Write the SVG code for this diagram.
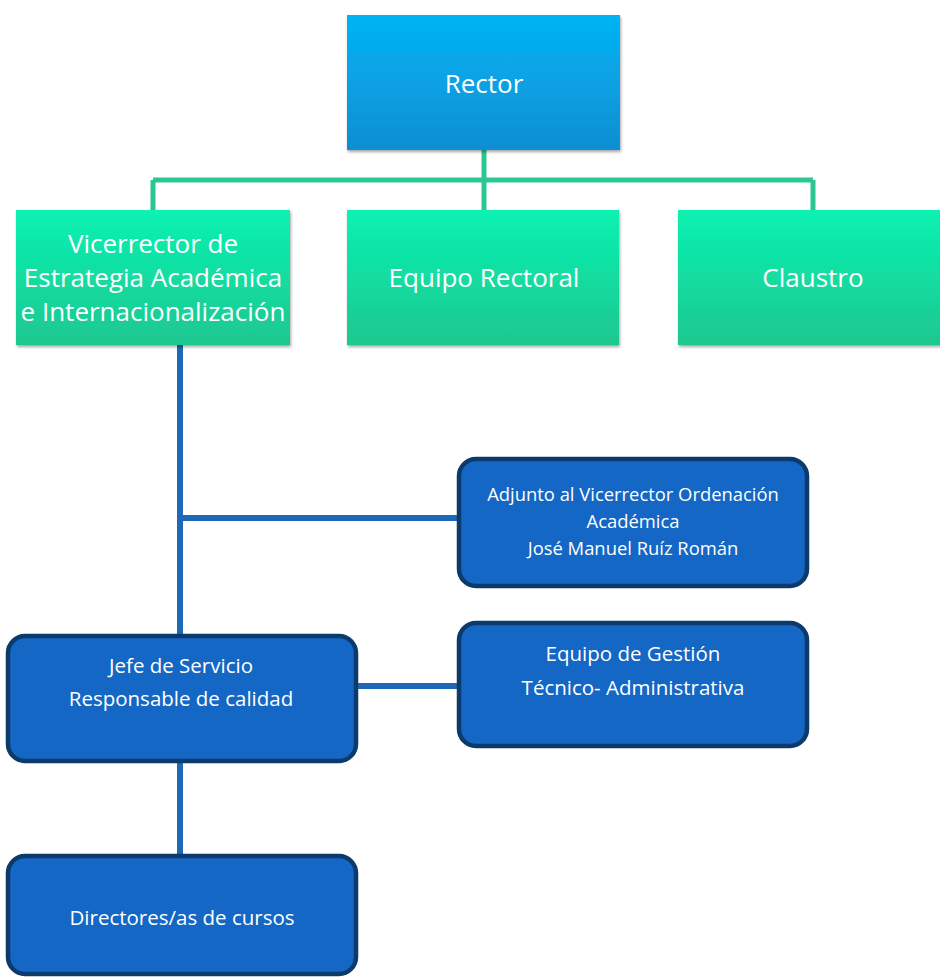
<svg xmlns="http://www.w3.org/2000/svg" width="940" height="977" viewBox="0 0 940 977">
<defs>
<linearGradient id="gRector" x1="0" y1="0" x2="0" y2="1">
<stop offset="0" stop-color="#05b4f4"/><stop offset="1" stop-color="#0a8ed3"/>
</linearGradient>
<linearGradient id="gGreen" x1="0" y1="0" x2="0" y2="1">
<stop offset="0" stop-color="#08f2b2"/><stop offset="1" stop-color="#1ec78f"/>
</linearGradient>
<filter id="sh" x="-5%" y="-5%" width="110%" height="115%">
<feDropShadow dx="1" dy="2" stdDeviation="1.5" flood-color="#000" flood-opacity="0.35"/>
</filter>
</defs>
<style>
.t{font-family:"Open Sans","Liberation Sans",sans-serif;fill:#fff;text-anchor:middle;dominant-baseline:central}
.big{font-size:26px}
.mid{font-size:20.5px}
.small{font-size:18.4px}
.blue{fill:#1467c4;stroke:#0c3a6b;stroke-width:4.5}
.gl{stroke:#2cc690;stroke-width:5;fill:none}
.bl{stroke:#1e68b8;stroke-width:6;fill:none}
</style>
<rect width="940" height="977" fill="#fff"/>
<g id="connectors">
<path class="gl" d="M484 150V210M153 180H813M153 180V210M813 180V210"/>
<path class="bl" d="M180 345V635M180 518H458M357 686H458M180 762V855"/>
</g>
<g id="rector">
<rect x="347" y="15" width="273" height="135" fill="url(#gRector)" filter="url(#sh)"/>
<text class="t big" x="484" y="83">Rector</text>
</g>
<g id="vicerrector">
<rect x="16" y="210" width="274" height="135" fill="url(#gGreen)" filter="url(#sh)"/>
<text class="t big" x="153" y="243">Vicerrector de</text>
<text class="t big" x="153" y="277">Estrategia Académica</text>
<text class="t big" x="153" y="311">e Internacionalización</text>
</g>
<g id="equipo-rectoral">
<rect x="347" y="210" width="272" height="135" fill="url(#gGreen)" filter="url(#sh)"/>
<text class="t big" x="484" y="277">Equipo Rectoral</text>
</g>
<g id="claustro">
<rect x="678" y="210" width="272" height="135" fill="url(#gGreen)" filter="url(#sh)"/>
<text class="t big" x="813" y="277">Claustro</text>
</g>
<g id="adjunto">
<rect class="blue" x="459" y="459" width="348" height="127" rx="17"/>
<text class="t small" x="633" y="493">Adjunto al Vicerrector Ordenación</text>
<text class="t small" x="633" y="520">Académica</text>
<text class="t small" x="633" y="547">José Manuel Ruíz Román</text>
</g>
<g id="jefe">
<rect class="blue" x="8" y="636" width="348" height="125" rx="17"/>
<text class="t mid" x="181" y="665">Jefe de Servicio</text>
<text class="t mid" x="181" y="698">Responsable de calidad</text>
</g>
<g id="equipo-gestion">
<rect class="blue" x="459" y="623" width="348" height="123" rx="17"/>
<text class="t mid" x="633" y="653">Equipo de Gestión</text>
<text class="t mid" x="633" y="687">Técnico- Administrativa</text>
</g>
<g id="directores">
<rect class="blue" x="8" y="856" width="348" height="118" rx="17"/>
<text class="t mid" x="182" y="917">Directores/as de cursos</text>
</g>
</svg>
